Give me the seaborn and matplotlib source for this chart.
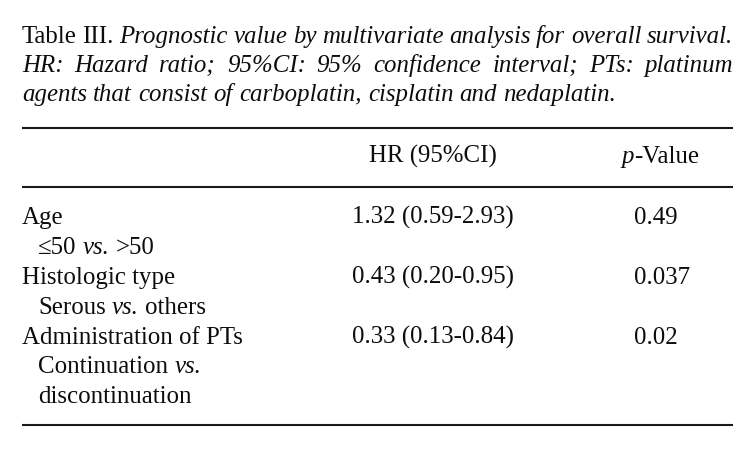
import matplotlib
matplotlib.use("Agg")
import matplotlib.pyplot as plt
import seaborn as sns

# ---- data ----
caption_lines = [
    [("Table", "normal"), ("III.", "normal"), ("Prognostic", "italic"), ("value", "italic"),
     ("by", "italic"), ("multivariate", "italic"), ("analysis", "italic"), ("for", "italic"),
     ("overall", "italic"), ("survival.", "italic")],
    [("HR:", "italic"), ("Hazard", "italic"), ("ratio;", "italic"), ("95%CI:", "italic"),
     ("95%", "italic"), ("confidence", "italic"), ("interval;", "italic"), ("PTs:", "italic"),
     ("platinum", "italic")],
    [("agents", "italic"), ("that", "italic"), ("consist", "italic"), ("of", "italic"),
     ("carboplatin,", "italic"), ("cisplatin", "italic"), ("and", "italic"),
     ("nedaplatin.", "italic")],
]
caption_justify = [True, True, False]

header_hr = "HR (95%CI)"
header_p = [("p", "italic"), ("-Value", "normal")]

variables = ["Age", "Histologic type", "Administration of PTs"]
comparisons = [
    [[("≤50", "normal"), ("vs.", "italic"), (">50", "normal")]],
    [[("Serous", "normal"), ("vs.", "italic"), ("others", "normal")]],
    [[("Continuation", "normal"), ("vs.", "italic")], [("discontinuation", "normal")]],
]
hr_values = ["1.32 (0.59-2.93)", "0.43 (0.20-0.95)", "0.33 (0.13-0.84)"]
p_values = ["0.49", "0.037", "0.02"]

# ---- figure ----
sns.set_theme(style="white")
plt.rcParams["font.family"] = ["Liberation Serif", "DejaVu Serif"]

FS = 17.9
INK = "#0d0d0d"

fig = plt.figure(figsize=(7.55, 4.5), dpi=100)
ax = fig.add_axes([0, 0, 1, 1])
ax.set_xlim(0, 755)
ax.set_ylim(450, 0)
ax.axis("off")
renderer = fig.canvas.get_renderer()


def text_width(s, style, size=FS):
    t = ax.text(0, 0, s, fontsize=size, style=style)
    w = t.get_window_extent(renderer).width
    t.remove()
    return w


def space_width(style, size=FS):
    return text_width("a a", style, size) - text_width("aa", style, size)


def draw_tokens(x0, y, tokens, x1=None, justify=False):
    widths = [text_width(w, st) for w, st in tokens]
    if justify and x1 is not None and len(tokens) > 1:
        gaps = [(x1 - x0 - sum(widths)) / (len(tokens) - 1)] * (len(tokens) - 1)
    else:
        gaps = [space_width(tokens[i][1]) for i in range(len(tokens) - 1)]
    x = x0
    for i, ((w, st), wd) in enumerate(zip(tokens, widths)):
        ax.text(x, y, w, fontsize=FS, style=st, va="baseline", ha="left", color=INK)
        x += wd
        if i < len(gaps):
            x += gaps[i]
    return x


LEFT, RIGHT = 22, 733

# caption
cap_y = [43, 72, 101]
for toks, just, y in zip(caption_lines, caption_justify, cap_y):
    draw_tokens(LEFT, y, toks, RIGHT, justify=just)

# rules
for yr in (128, 187, 425):
    ax.hlines(yr, LEFT, RIGHT, color="#1a1a1a", lw=1.5)

# header
HR_X = 352
P_X = 634
hr_w = text_width(hr_values[0], "normal")
ax.text(HR_X + hr_w / 2, 163, header_hr, fontsize=FS, ha="center", va="baseline", color=INK)
p_w = text_width(header_p[0][0], "italic")
v_w = text_width(header_p[1][0], "normal")
px0 = 660 - (p_w + v_w) / 2
ax.text(px0, 163, header_p[0][0], fontsize=FS, style="italic", va="baseline", ha="left", color=INK)
ax.text(px0 + p_w, 163, header_p[1][0], fontsize=FS, va="baseline", ha="left", color=INK)

# body rows
row_step = 29.9
y = 224
for var, comps, hr, p in zip(variables, comparisons, hr_values, p_values):
    ax.text(LEFT, y, var, fontsize=FS, va="baseline", ha="left", color=INK)
    ax.text(HR_X, y, hr, fontsize=FS, va="baseline", ha="left", color=INK)
    ax.text(P_X, y, p, fontsize=FS, va="baseline", ha="left", color=INK)
    y += row_step
    for line in comps:
        draw_tokens(38, y, line)
        y += row_step

fig.savefig("out.png", dpi=100, facecolor="white")
